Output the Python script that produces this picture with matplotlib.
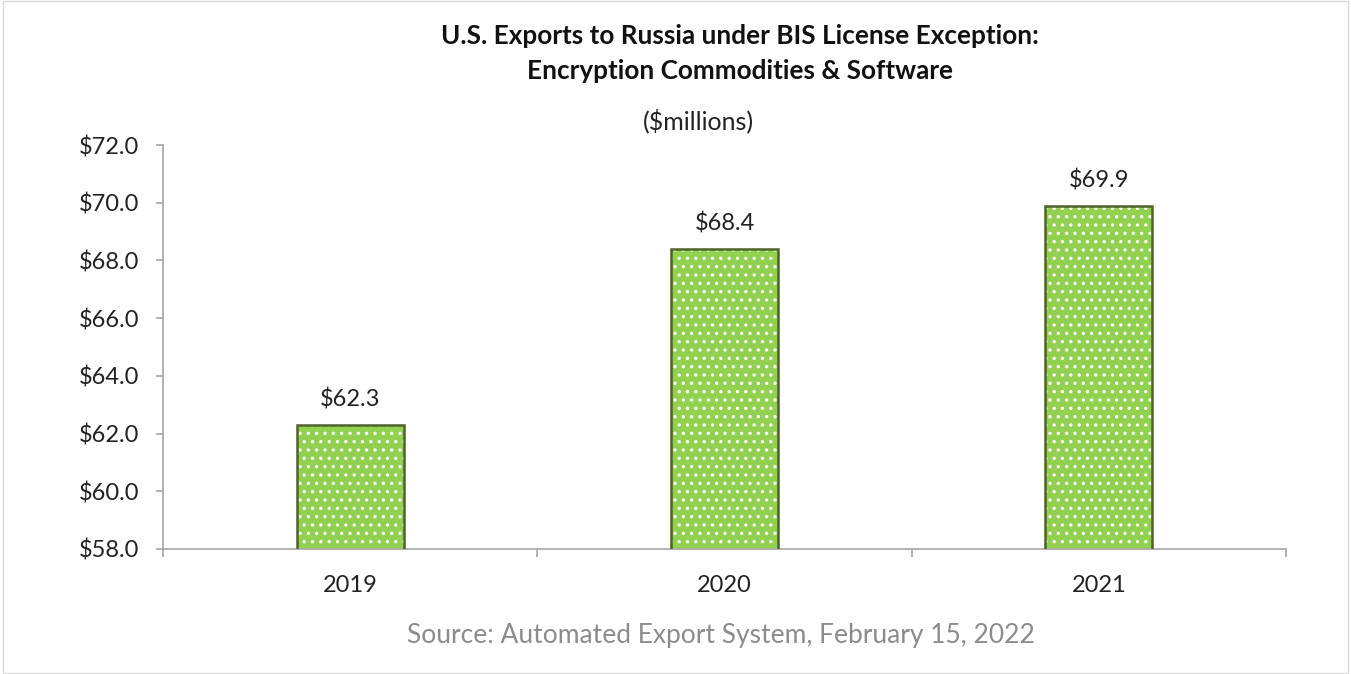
import matplotlib.pyplot as plt
from matplotlib.patches import Rectangle

# data
years = ['2019', '2020', '2021']
values = [62.3, 68.4, 69.9]
yticks = [58, 60, 62, 64, 66, 68, 70, 72]

plt.rcParams['font.family'] = ['Lato', 'DejaVu Sans']
plt.rcParams['hatch.linewidth'] = 1.2

fig = plt.figure(figsize=(13.51, 6.74), dpi=100)
ax = fig.add_axes([163 / 1351, 1 - 549 / 674, (1286 - 163) / 1351, (549 - 145) / 674])

x = list(range(len(years)))
w = 0.285
# fill + white dots
ax.bar(x, values, width=w, color='#92D050', edgecolor='white',
       hatch='..', linewidth=0, zorder=2)
# dark green outline
ax.bar(x, values, width=w, color='none', edgecolor='#4F6228', linewidth=1.8, zorder=3)

for xi, v in zip(x, values):
    ax.annotate(f'${v:.1f}', (xi, v), xytext=(0, 13), textcoords='offset points',
                ha='center', va='baseline', fontsize=17, color='#222222')

ax.set_ylim(58, 72)
ax.set_xlim(-0.5, 2.5)
ax.set_yticks(yticks)
ax.set_yticklabels([f'${t:.1f}' for t in yticks], fontsize=17, color='#222222')

ax.set_xticks(x)
ax.set_xticklabels(years, fontsize=17, color='#222222')
ax.tick_params(axis='x', length=0, pad=19)
ax.set_xticks([-0.5, 0.5, 1.5, 2.5], minor=True)
ax.tick_params(axis='x', which='minor', length=6, color='#A6A6A6', width=1.2)
ax.tick_params(axis='y', length=5, color='#A6A6A6', width=1.2, pad=12)

for s in ['top', 'right']:
    ax.spines[s].set_visible(False)
for s in ['left', 'bottom']:
    ax.spines[s].set_color('#A6A6A6')
    ax.spines[s].set_linewidth(1.2)

fig.text(740 / 1351, 1 - 44 / 674, 'U.S. Exports to Russia under BIS License Exception:',
         ha='center', va='baseline', fontsize=18.8, fontweight='bold', color='#111111')
fig.text(740 / 1351, 1 - 79 / 674, 'Encryption Commodities & Software',
         ha='center', va='baseline', fontsize=18.8, fontweight='bold', color='#111111')
fig.text(698 / 1351, 1 - 121 / 674, '($millions)', ha='center', va='center',
         fontsize=18, color='#222222')
fig.text(721 / 1351, 1 - 643 / 674, 'Source: Automated Export System, February 15, 2022',
         ha='center', va='baseline', fontsize=19, color='#8C8C8C')

# light frame around the chart area
fig.patches.append(Rectangle((0.002, 0.002), 0.996, 0.996, transform=fig.transFigure,
                             fill=False, edgecolor='#D9D9D9', linewidth=1))

fig.savefig('out.png', dpi=100)
